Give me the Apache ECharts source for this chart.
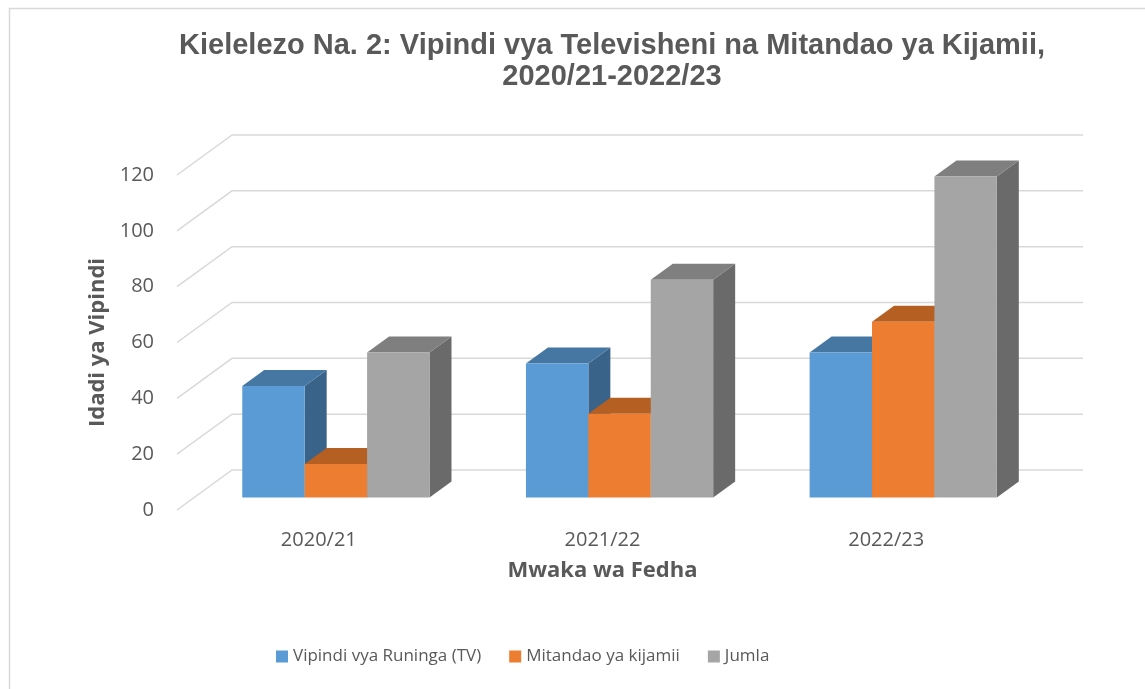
<!DOCTYPE html>
<html>
<head>
<meta charset="utf-8">
<script src="https://cdn.jsdelivr.net/npm/echarts@6/dist/echarts.min.js"></script>
<style>
html,body{margin:0;padding:0;background:#fff;}
#chart{width:1145px;height:689px;}
</style>
</head>
<body>
<div id="chart"></div>
<script>
const categories = ['2020/21', '2021/22', '2022/23'];
const tvValues = [40, 48, 52];
const socialValues = [12, 30, 63];
const totalValues = [52, 78, 115];
const yTicks = [0, 20, 40, 60, 80, 100, 120];
const seriesNames = ['Vipindi vya Runinga (TV)', 'Mitandao ya kijamii', 'Jumla'];

const DX = 55, DY = -40;      // full depth vector
const F0 = 0.31, BD = 0.40;   // bar front depth, bar depth
const palette = [
  {front: '#5B9BD5', top: '#4677A3', side: '#3A6389'},
  {front: '#ED7D31', top: '#B65F22', side: '#A3561F'},
  {front: '#A5A5A5', top: '#7F7F7F', side: '#6A6A6A'}
];

function barRenderer(k) {
  return function (params, api) {
    const c = api.value(0), v = api.value(1);
    const base = api.coord([c, 0]);
    const top = api.coord([c, v]);
    const band = api.size([1, 0])[0];
    const w = band * 0.22;
    const x0 = base[0] + DX * F0 - 1.5 * w + k * w, x1 = x0 + w;
    const yb = base[1] + DY * F0, yt = top[1] + DY * F0;
    const bx = DX * BD, by = DY * BD;
    const col = palette[k];
    return {
      type: 'group',
      children: [
        {type: 'polygon', shape: {points: [[x1, yt], [x1 + bx, yt + by], [x1 + bx, yb + by], [x1, yb]]}, style: {fill: col.side}},
        {type: 'polygon', shape: {points: [[x0, yt], [x1, yt], [x1 + bx, yt + by], [x0 + bx, yt + by]]}, style: {fill: col.top}},
        {type: 'rect', shape: {x: x0, y: yt, width: w, height: yb - yt}, style: {fill: col.front}}
      ]
    };
  };
}

function wallRenderer(params, api) {
  const v = api.value(0);
  const cs = params.coordSys;
  const y = api.coord([0, v])[1];
  const xl = cs.x, xr = cs.x + cs.width;
  return {
    type: 'polyline',
    shape: {points: [[xl, y], [xl + DX, y + DY], [xr + DX, y + DY]]},
    style: {stroke: '#D9D9D9', lineWidth: 1.5, fill: null}
  };
}

const valueSets = [tvValues, socialValues, totalValues];
const barSeries = valueSets.map((vals, k) => ({
  type: 'custom',
  name: seriesNames[k],
  renderItem: barRenderer(k),
  itemStyle: {color: palette[k].front},
  encode: {x: 0, y: 1},
  data: categories.map((c, i) => [i, vals[i]]),
  z: 3
}));

const chart = echarts.init(document.getElementById('chart'));
chart.setOption({
  backgroundColor: '#fff',
  animation: false,
  title: {
    text: 'Kielelezo Na. 2: Vipindi vya Televisheni na Mitandao ya Kijamii,\n2020/21-2022/23',
    left: 612,
    textAlign: 'center',
    top: 30,
    padding: 0,
    textStyle: {fontFamily: 'Liberation Sans', fontWeight: 'bold', fontSize: 29, lineHeight: 31, color: '#595959'}
  },
  legend: {
    data: seriesNames,
    left: 271,
    top: 643,
    icon: 'rect',
    itemWidth: 12,
    itemHeight: 12,
    itemGap: 28,
    textStyle: {fontFamily: 'Open Sans', fontSize: 17, color: '#595959'}
  },
  grid: {left: 177, top: 175, width: 851, height: 335},
  xAxis: {
    type: 'category',
    data: categories,
    name: 'Mwaka wa Fedha',
    nameLocation: 'middle',
    nameGap: 50,
    nameTextStyle: {fontFamily: 'Open Sans', fontWeight: 'bold', fontSize: 22, color: '#595959'},
    axisLine: {show: false},
    axisTick: {show: false},
    axisLabel: {fontFamily: 'Open Sans', fontSize: 20, color: '#595959', margin: 20}
  },
  yAxis: {
    type: 'value',
    min: 0, max: 120, interval: 20,
    name: 'Idadi ya Vipindi',
    nameLocation: 'middle',
    nameGap: 66,
    nameRotate: 90,
    nameTextStyle: {fontFamily: 'Open Sans', fontWeight: 'bold', fontSize: 22, color: '#595959'},
    axisLine: {show: false},
    axisTick: {show: false},
    splitLine: {show: false},
    axisLabel: {fontFamily: 'Open Sans', fontSize: 20, color: '#595959', margin: 23}
  },
  graphic: [{
    type: 'rect', left: 7, top: 6, z: -10,
    shape: {width: 1200, height: 800},
    style: {fill: null, stroke: '#D9D9D9', lineWidth: 1.5}
  }],
  series: [{
    type: 'custom',
    name: 'walls',
    renderItem: wallRenderer,
    encode: {y: 0},
    data: yTicks.map(v => [v]),
    silent: true,
    z: 1
  }].concat(barSeries)
});
</script>
</body>
</html>
